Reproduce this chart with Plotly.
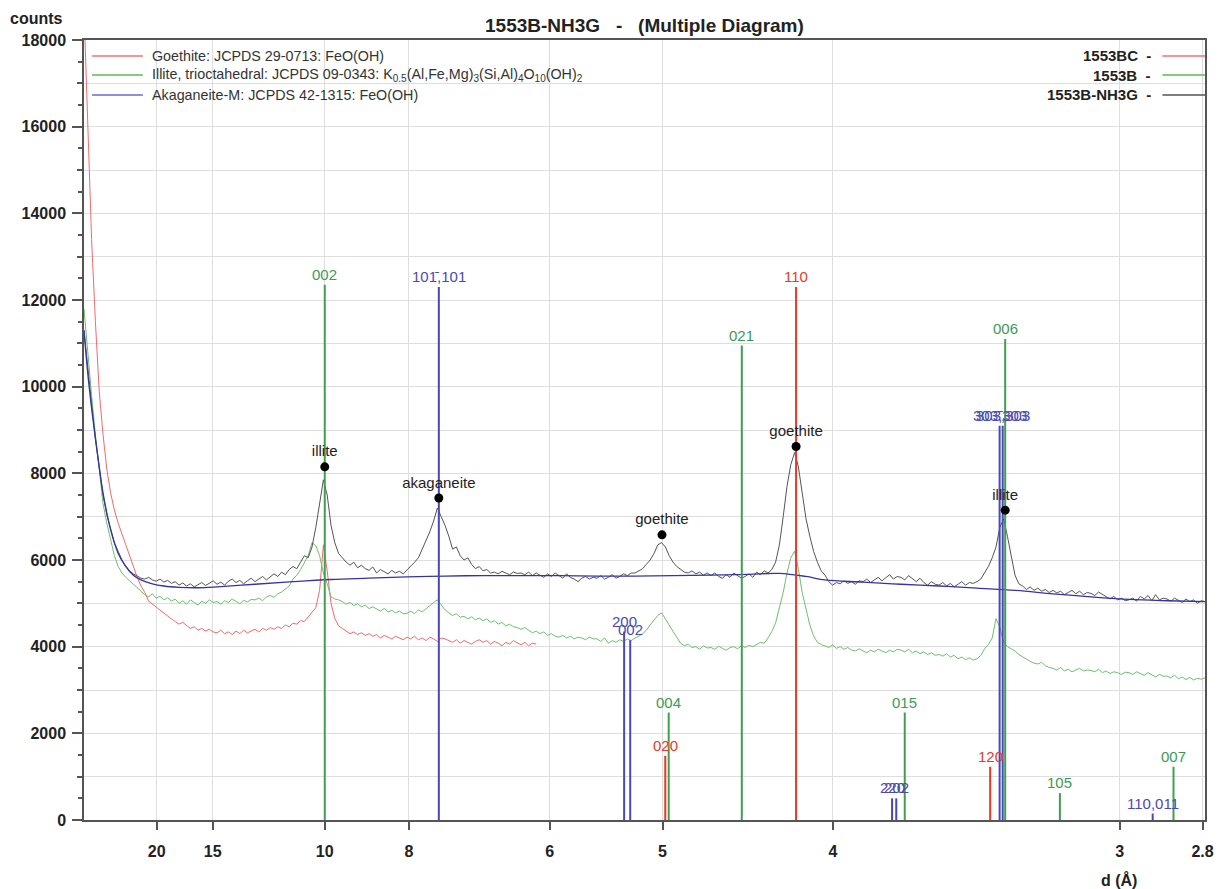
import numpy as np
import plotly.graph_objects as go

WAVELENGTH = 1.5406  # Cu K-alpha (Angstrom)


def two_theta(d):
    d = np.asarray(d, dtype=float)
    return np.degrees(2 * np.arcsin(WAVELENGTH / (2 * d)))


# ---------------- measured patterns (2-theta grid, 0.1 deg step) ----------------
TT_START = 2.5
TT_STEP = 0.1

nh3g_counts = [
    11300, 10400, 9600, 8800, 8100,
    7500, 7050, 6700, 6400, 6200, 6000, 5850, 5750, 5680, 5620,
    5580, 5560, 5600, 5540, 5510, 5560, 5490, 5530, 5460, 5500,
    5420, 5470, 5400, 5450, 5380, 5430, 5480, 5410, 5460, 5520,
    5440, 5490, 5420, 5510, 5560, 5480, 5530, 5450, 5520, 5580,
    5500, 5560, 5620, 5540, 5600, 5680, 5620, 5720, 5660, 5780,
    5850, 5800, 5950, 6100, 6050, 6300, 6750, 7350, 7850, 7500,
    6800, 6400, 6150, 6050, 5950, 5880, 5950, 5820, 5880, 5800,
    5760, 5840, 5700, 5780, 5720, 5680, 5760, 5700, 5740, 5680,
    5770, 5850, 5950, 6050, 6250, 6450, 6650, 6900, 7200, 7000,
    6800, 6550, 6250, 6300, 6100, 6000, 6050, 5900, 5800, 5850,
    5750, 5780, 5700, 5720, 5680, 5740, 5700, 5660, 5720, 5690,
    5700, 5660, 5720, 5640, 5700, 5650, 5600, 5680, 5620, 5700,
    5650, 5580, 5680, 5600, 5560, 5500, 5580, 5620, 5560, 5600,
    5580, 5640, 5560, 5600, 5660, 5580, 5620, 5680, 5640, 5700,
    5700, 5750, 5800, 5900, 6000, 6150, 6350, 6400, 6300, 6100,
    5950, 5850, 5780, 5720, 5700, 5750, 5680, 5720, 5650, 5700,
    5640, 5700, 5620, 5580, 5660, 5600, 5700, 5640, 5580, 5620,
    5680, 5600, 5720, 5660, 5750, 5700, 5780, 5950, 6350, 7000,
    7700, 8200, 8480, 8150, 7500, 6950, 6550, 6200, 5950, 5750,
    5650, 5500, 5420, 5480, 5450, 5520, 5460, 5500, 5440, 5520,
    5500, 5560, 5480, 5540, 5600, 5520, 5580, 5660, 5560, 5620,
    5600, 5540, 5640, 5560, 5500, 5580, 5480, 5420, 5500, 5440,
    5420, 5480, 5400, 5460, 5380, 5440, 5500, 5420, 5480, 5460,
    5500, 5560, 5700, 5850, 6050, 6300, 6750, 6950, 6550, 6050,
    5650, 5450, 5400, 5320, 5380, 5300, 5350, 5280, 5320, 5250,
    5300, 5240, 5280, 5200, 5260, 5300, 5220, 5280, 5200, 5250,
    5230, 5180, 5260, 5200, 5150, 5100, 5160, 5080, 5120, 5060,
    5080, 5120, 5050, 5160, 5100, 5180, 5060, 5200, 5080, 5120,
    5100, 5050, 5120, 5060, 5020, 5100, 5040, 5080, 5000, 5060,
    5040,
]

b_counts = [
    11800, 10700, 9800, 8900, 8100,
    7300, 6850, 6450, 6100, 5850, 5700, 5600, 5520, 5420, 5350,
    5280, 5200, 5150, 5220, 5120, 5160, 5080, 5130, 5050, 5100,
    5000, 5060, 4980, 5080, 5020, 4960, 5050, 5000, 5080, 5020,
    5040, 4980, 5060, 5020, 5100, 5040, 4990, 5070, 5030, 5090,
    5080, 5120, 5060, 5150, 5180, 5140, 5220, 5260, 5320, 5400,
    5560, 5650, 5780, 5950, 6100, 6400, 6330, 6100, 5700, 5450,
    5150, 5100, 5080, 5040, 4980, 5020, 4950, 4990, 4920, 4960,
    4880, 4920, 4860, 4820, 4880, 4800, 4840, 4780, 4820, 4760,
    4770, 4820, 4760, 4850, 4800, 4880, 4950, 5020, 5080, 4960,
    4850, 4780, 4720, 4760, 4680, 4700, 4640, 4690, 4620, 4660,
    4600, 4640, 4560, 4600, 4520, 4560, 4480, 4520, 4460, 4440,
    4400, 4440, 4380, 4320, 4360, 4300, 4340, 4260, 4300, 4240,
    4220, 4260, 4200, 4240, 4180, 4220, 4200, 4160, 4220, 4180,
    4180, 4120, 4200, 4080, 4140, 4100, 4160, 4120, 4180, 4140,
    4200, 4240, 4300, 4380, 4500, 4620, 4720, 4780, 4650, 4500,
    4350, 4200, 4080, 4020, 4060, 3980, 4000, 3940, 4020, 3970,
    3980, 3940, 4010, 3960, 3920, 3980, 4000, 3950, 4020, 3980,
    4030, 4000, 4060, 4100, 4080, 4200, 4350, 4550, 4900, 5250,
    5700, 6050, 6200, 5800, 5250, 4850, 4500, 4250, 4100, 4050,
    4020, 3980, 4040, 3960, 4000, 3940, 3980, 3920, 3900, 3950,
    3900, 3860, 3920, 3880, 3940, 3900, 3860, 3920, 3880, 3940,
    3920, 3880, 3940, 3860, 3900, 3840, 3880, 3820, 3860, 3800,
    3820, 3780, 3840, 3760, 3800, 3720, 3760, 3700, 3740, 3690,
    3720, 3800, 3950, 4050, 4200, 4650, 4450, 4100, 4000, 3950,
    3900, 3820, 3760, 3700, 3660, 3620, 3600, 3640, 3560, 3520,
    3500, 3460, 3520, 3440, 3480, 3420, 3460, 3500, 3440, 3460,
    3450, 3420, 3480, 3400, 3440, 3380, 3420, 3400, 3360, 3410,
    3400, 3360, 3420, 3380, 3340, 3400, 3350, 3300, 3360, 3320,
    3320, 3280, 3340, 3260, 3300, 3240, 3290, 3230, 3270, 3250,
    3280,
]

bc_counts = [
    18700, 15800, 13400, 11500, 9900,
    8900, 8100, 7550, 7150, 6850, 6600, 6350, 6050, 5800, 5600,
    5400, 5250, 5050, 4980, 4920, 4850, 4760, 4700, 4640, 4580,
    4520, 4560, 4480, 4420, 4460, 4380, 4420, 4360, 4400, 4340,
    4320, 4380, 4300, 4340, 4280, 4360, 4300, 4380, 4320, 4360,
    4400, 4340, 4420, 4380, 4440, 4400, 4460, 4420, 4500, 4460,
    4540, 4520, 4600, 4580, 4680, 4780, 4900, 5300, 6350, 5750,
    5000, 4650, 4480, 4420, 4360, 4300, 4340, 4280, 4320, 4260,
    4300, 4240, 4280, 4200, 4260, 4220, 4180, 4240, 4200, 4160,
    4220, 4180, 4240, 4160, 4200, 4140, 4220, 4180, 4120, 4200,
    4180, 4140, 4100, 4160, 4080, 4140, 4100, 4060, 4120, 4160,
    4100, 4140, 4060, 4120, 4080, 4020, 4100, 4060, 4140, 4080,
    4040, 4100, 4020, 4080, 4060,
]

# fitted background of 1553B-NH3G
bg_tt = [2.5, 2.6, 2.7, 2.8, 2.9, 3.0, 3.2, 3.4, 3.6, 3.8, 4.0, 4.3, 4.6, 5.0, 5.5,
         6.0, 7.0, 8.0, 9.0, 10.0, 11.0, 12.0, 13.0, 14.0, 15.0, 16.0, 17.0, 18.0,
         19.0, 20.0, 20.8, 21.5, 22.0, 23.0, 24.0, 25.0, 26.0, 27.0, 28.0, 29.0,
         30.0, 31.0, 32.0]
bg_counts = [11300, 10300, 9500, 8800, 8150, 7550, 6700, 6150, 5850, 5650, 5540, 5450,
             5400, 5370, 5360, 5380, 5440, 5500, 5550, 5580, 5610, 5630, 5640, 5640,
             5640, 5630, 5630, 5640, 5650, 5670, 5690, 5620, 5540, 5490, 5440, 5400,
             5350, 5300, 5220, 5150, 5090, 5060, 5040]

assert len(nh3g_counts) == 296, len(nh3g_counts)
assert len(b_counts) == 296, len(b_counts)
assert len(bc_counts) == 120, len(bc_counts)
assert len(bg_tt) == len(bg_counts)

# ---------------- reference stick patterns (d in Angstrom) ----------------
goethite_d = [4.18, 4.98, 3.38]
goethite_I = [12300, 1480, 1230]
goethite_hkl = ["110", "020", "120"]

illite_d = [10.0, 4.955, 4.478, 3.69, 3.331, 3.164, 2.867]
illite_I = [12350, 2480, 10950, 2480, 11100, 620, 1230]
illite_hkl = ["002", "004", "021", "015", "006", "105", "007"]

akag_d = [7.47, 5.30, 5.25, 3.741, 3.724, 3.349, 3.339, 2.917]
akag_I = [12300, 4350, 4150, 500, 500, 9100, 9100, 150]
akag_hkl = ["10\u0031\u0304,101", "200", "002", "220", "202",
            "303\u0304,303", "303\u0304,303", "110,011"]

# identified peaks
peak_d = [10.0, 7.47, 5.004, 4.18, 3.331]
peak_counts = [8150, 7430, 6580, 8620, 7150]
peak_names = ["illite", "akaganeite", "goethite", "goethite", "illite"]

# axis ticks (d in Angstrom)
d_ticks = [20, 15, 10, 8, 6, 5, 4, 3, 2.8]
d_tick_text = ["20", "15", "10", "8", "6", "5", "4", "3", "2.8"]
y_major = list(range(0, 18001, 2000))
y_half = list(range(500, 18000, 1000))

# ---------------- styling ----------------
FONT = "Arial, Liberation Sans, sans-serif"
C_RED_TR, C_GRN_TR, C_BLK_TR, C_BG = "#f26a6a", "#6cc06c", "#555555", "#3434a4"
C_RED, C_GRN, C_BLU = "#ee3524", "#3f9f4f", "#4848b8"
C_RED_TXT, C_GRN_TXT, C_BLU_TXT = "#e8392a", "#3c9a55", "#4a4ab0"
C_RED_LEG, C_GRN_LEG, C_BLU_LEG = "#f07070", "#5cb85c", "#6a6ad0"
NB = "\u00a0"


def grid_tt(n):
    return np.round(TT_START + TT_STEP * np.arange(n), 3)


def sticks(d_list, I_list):
    xs, ys = [], []
    for tt, h in zip(two_theta(d_list), I_list):
        xs += [tt, tt, None]
        ys += [0, h, None]
    return xs, ys


fig = go.Figure()

fig.add_trace(go.Scatter(x=grid_tt(len(bc_counts)), y=bc_counts, mode="lines",
                         line=dict(color=C_RED_TR, width=1), showlegend=False))
fig.add_trace(go.Scatter(x=grid_tt(len(b_counts)), y=b_counts, mode="lines",
                         line=dict(color=C_GRN_TR, width=1), showlegend=False))
fig.add_trace(go.Scatter(x=grid_tt(len(nh3g_counts)), y=nh3g_counts, mode="lines",
                         line=dict(color=C_BLK_TR, width=1), showlegend=False))
fig.add_trace(go.Scatter(x=bg_tt, y=bg_counts, mode="lines", line_shape="spline",
                         line=dict(color=C_BG, width=1.3), showlegend=False))

for d_list, I_list, col in [(illite_d, illite_I, C_GRN), (goethite_d, goethite_I, C_RED),
                            (akag_d, akag_I, C_BLU)]:
    xs, ys = sticks(d_list, I_list)
    fig.add_trace(go.Scatter(x=xs, y=ys, mode="lines", line=dict(color=col, width=2),
                             showlegend=False, hoverinfo="skip"))

fig.add_trace(go.Scatter(x=two_theta(peak_d), y=peak_counts, mode="markers+text",
                         marker=dict(color="black", size=9), text=peak_names,
                         textposition="top center",
                         textfont=dict(family=FONT, size=15, color="#222"),
                         showlegend=False))

# dummy trace for the half-step tick axis
fig.add_trace(go.Scatter(x=[None], y=[None], yaxis="y2", showlegend=False))

annotations = []
for d_list, I_list, labels, col in [(illite_d, illite_I, illite_hkl, C_GRN_TXT),
                                    (goethite_d, goethite_I, goethite_hkl, C_RED_TXT),
                                    (akag_d, akag_I, akag_hkl, C_BLU_TXT)]:
    for tt, h, lab in zip(two_theta(d_list), I_list, labels):
        annotations.append(dict(x=tt, y=h, xref="x", yref="y", text=lab, showarrow=False,
                                xanchor="center", yanchor="bottom", yshift=0,
                                font=dict(family=FONT, size=15, color=col)))

# title and axis titles
annotations.append(dict(x=0.5, y=1, xref="paper", yref="paper", xanchor="center",
                        yanchor="bottom", yshift=2,
                        text="<b>1553B-NH3G" + NB * 3 + "-" + NB * 3 + "(Multiple Diagram)</b>",
                        showarrow=False, font=dict(family=FONT, size=19, color="#222")))
annotations.append(dict(x=-0.042, y=1.028, xref="paper", yref="paper", xanchor="center",
                        yanchor="middle", text="<b>counts</b>",
                        showarrow=False, font=dict(family=FONT, size=16, color="#222")))
annotations.append(dict(x=0.9235, y=-0.077, xref="paper", yref="paper", xanchor="center",
                        yanchor="middle", text="<b>d (Å)</b>",
                        showarrow=False, font=dict(family=FONT, size=16, color="#222")))

# left legend (reference patterns)
left_leg = [
    ("Goethite: JCPDS 29-0713: FeO(OH)", C_RED_LEG),
    ("Illite, trioctahedral: JCPDS 09-0343: K<sub>0.5</sub>(Al,Fe,Mg)<sub>3</sub>"
     "(Si,Al)<sub>4</sub>O<sub>10</sub>(OH)<sub>2</sub>", C_GRN_LEG),
    ("Akaganeite-M: JCPDS 42-1315: FeO(OH)", C_BLU_LEG),
]
right_leg = [("1553BC", C_RED_LEG), ("1553B", C_GRN_LEG), ("1553B-NH3G", "#555555")]
rows = [0.9795, 0.9551, 0.9295]
shapes = []
for (txt, col), yy in zip(left_leg, rows):
    shapes.append(dict(type="line", xref="paper", yref="paper", x0=0.0071, x1=0.0525,
                       y0=yy, y1=yy, line=dict(color=col, width=1.5)))
    annotations.append(dict(x=0.0587, y=yy, xref="paper", yref="paper", xanchor="left",
                            yanchor="middle", text=txt, showarrow=False,
                            font=dict(family=FONT, size=14.3, color="#333")))
for (txt, col), yy in zip(right_leg, rows):
    shapes.append(dict(type="line", xref="paper", yref="paper", x0=0.962, x1=1.0,
                       y0=yy, y1=yy, line=dict(color=col, width=1.5)))
    annotations.append(dict(x=0.954, y=yy, xref="paper", yref="paper", xanchor="right",
                            yanchor="middle",
                            text="<b>" + txt + NB * 2 + "-</b>", showarrow=False,
                            font=dict(family=FONT, size=15, color="#222")))

tt_min, tt_max = 2.5, 32.0
fig.update_layout(
    width=1226, height=889,
    margin=dict(l=84, r=18, t=40, b=69),
    paper_bgcolor="white", plot_bgcolor="white",
    font=dict(family=FONT, size=14, color="#222"),
    annotations=annotations, shapes=shapes,
    xaxis=dict(range=[tt_min, tt_max], tickvals=two_theta(d_ticks),
               ticktext=["<b>" + t + "</b>" for t in d_tick_text],
               tickfont=dict(family=FONT, size=16, color="#222"),
               ticks="outside", ticklen=8, tickwidth=1.5, tickcolor="#555",
               ticklabelstandoff=8,
               showgrid=True, gridcolor="#dedede", gridwidth=1, zeroline=False,
               showline=True, linecolor="#555", linewidth=1.5, mirror=True),
    yaxis=dict(range=[0, 18000], tickvals=y_major,
               ticktext=["<b>" + str(v) + "</b>" for v in y_major],
               tickfont=dict(family=FONT, size=16, color="#222"),
               ticks="outside", ticklen=10, tickwidth=1.5, tickcolor="#555",
               ticklabelstandoff=3,
               showgrid=True, gridcolor="#dedede", gridwidth=1, zeroline=False,
               showline=True, linecolor="#555", linewidth=1.5, mirror=True,
               minor=dict(dtick=1000, ticks="outside", ticklen=5, tickwidth=1.5,
                          tickcolor="#555", showgrid=True, gridcolor="#dedede")),
    yaxis2=dict(range=[0, 18000], overlaying="y", side="left", tickvals=y_half,
                ticks="outside", ticklen=5, tickwidth=1.5, tickcolor="#555",
                showticklabels=False, showgrid=False, zeroline=False, showline=False),
)

PAGE_FIX = ("document.body.style.margin='0';"
            "document.body.style.overflow='hidden';"
            "document.documentElement.style.overflow='hidden';")

fig.write_html("out.html", config={"responsive": False, "displayModeBar": False},
               post_script=PAGE_FIX)
